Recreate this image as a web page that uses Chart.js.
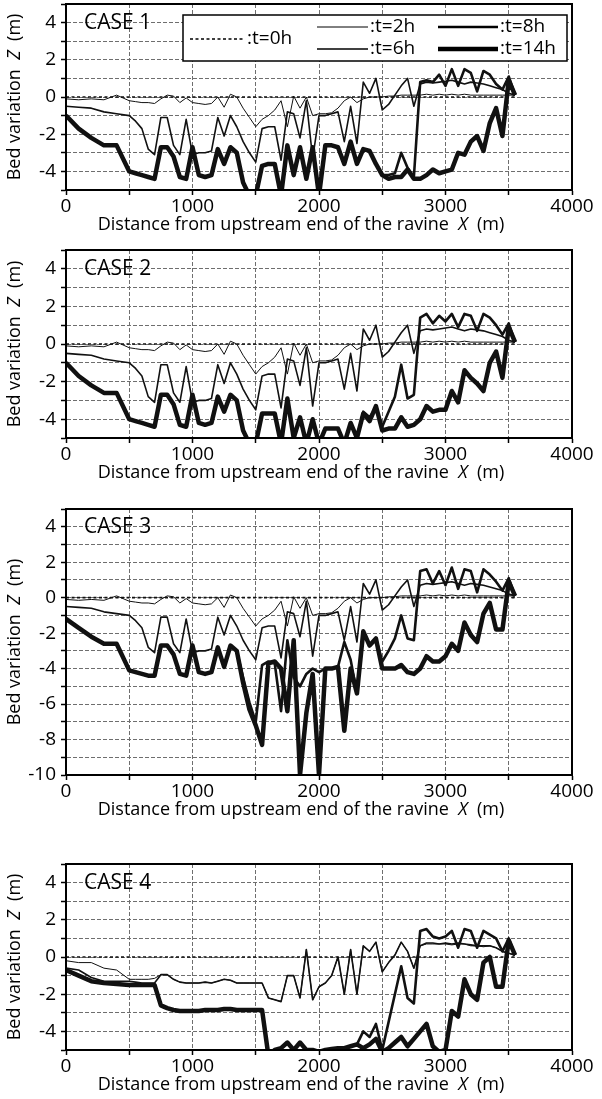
<!DOCTYPE html>
<html>
<head>
<meta charset="utf-8">
<script src="https://cdn.jsdelivr.net/npm/chart.js@4.4.1/dist/chart.umd.min.js"></script>
<style>
  html, body { margin: 0; padding: 0; background: #fff; }
  #page { position: relative; width: 602px; height: 1099px; overflow: hidden; }
  canvas { position: absolute; left: 0; }
</style>
</head>
<body>
<div id="page">
  <canvas id="case1" width="602" height="244" style="top:0px"></canvas>
  <canvas id="case2" width="602" height="256" style="top:244px"></canvas>
  <canvas id="case3" width="602" height="350" style="top:500px"></canvas>
  <canvas id="case4" width="602" height="249" style="top:850px"></canvas>
</div>
<script>
// distance along the ravine (m), shared by every computed profile
const DIST = [0, 100, 200, 300, 400, 500, 550, 600, 650, 700,
  750, 800, 850, 900, 950, 1000, 1050, 1100, 1150, 1200,
  1250, 1300, 1350, 1400, 1450, 1500, 1550, 1600, 1650, 1700,
  1750, 1800, 1850, 1900, 1950, 2000, 2050, 2100, 2150, 2200,
  2250, 2300, 2350, 2400, 2450, 2500, 2550, 2600, 2650, 2700,
  2750, 2800, 2850, 2900, 2950, 3000, 3050, 3100, 3150, 3200,
  3250, 3300, 3350, 3400, 3450, 3500, 3550];

// initial bed (t=0h)
const INITIAL_DIST = [0, 3550];
const INITIAL_Z = [0, 0];

// t=2h and t=6h are the same for cases 1-3
const EARLY_2H = [-0.1, -0.15, -0.1, -0.15, 0.1, -0.2, -0.25, -0.3, -0.3, -0.35,
  -0.1, 0.1, 0.05, -0.3, -0.05, -0.3, -0.35, -0.4, -0.35, 0.0,
  -0.55, 0.15, 0.0, -0.6, -1.1, -1.6, -1.2, -1.0, -0.7, -0.2,
  -1.6, 0.05, -0.6, 0.0, -1.0, -0.9, -0.9, -0.85, -0.6, -0.2,
  0.0, -0.3, -0.1, 0.0, 0.0, 0.0, 0.05, 0.05, 0.1, 0.1,
  0.1, 0.1, 0.15, 0.1, 0.15, 0.1, 0.15, 0.1, 0.15, 0.1,
  0.1, 0.1, 0.1, 0.1, 0.1, 0.1, 0.1];

const EARLY_6H = [-0.5, -0.55, -0.6, -0.8, -0.9, -1.0, -1.3, -1.7, -2.8, -3.1,
  -1.1, -1.1, -2.6, -3.1, -1.2, -3.1, -3.0, -3.0, -2.9, -1.1,
  -2.1, -1.0, -1.6, -2.4, -3.0, -3.5, -1.7, -1.6, -1.6, -3.4,
  -0.8, -0.9, -2.2, -0.2, -3.3, -1.0, -1.0, -0.9, -0.8, -2.4,
  -0.5, -2.5, 0.8, 0.2, 1.0, -0.7, -0.4, 0.1, 0.6, 1.0,
  -0.5, 0.7, 0.8, 0.75, 0.8, 0.85, 0.9, 0.8, 0.7, 0.8,
  0.75, 0.7, 0.6, 0.5, 0.4, 0.2, 0.1];

const CASE1_8H = [-1.0, -1.7, -2.2, -2.6, -2.6, -4.0, -4.1, -4.2, -4.3, -4.4,
  -2.7, -2.7, -3.2, -4.3, -4.4, -2.7, -4.2, -4.3, -4.2, -2.8,
  -3.6, -2.7, -3.0, -4.6, -5.3, -5.3, -3.7, -3.6, -3.6, -5.3,
  -2.6, -4.2, -2.7, -4.4, -2.7, -5.3, -2.6, -2.6, -2.7, -3.6,
  -2.4, -3.6, -2.8, -2.9, -3.6, -4.2, -4.2, -4.1, -3.0, -3.8,
  -4.3, 0.8, 0.9, 0.8, 1.2, 0.6, 1.5, 0.6, 1.5, 1.3,
  0.3, 1.4, 1.2, 0.7, 0.4, 1.1, 0.1];

const CASE1_14H = [-1.0, -1.7, -2.2, -2.6, -2.6, -4.0, -4.1, -4.2, -4.3, -4.4,
  -2.7, -2.7, -3.2, -4.3, -4.4, -2.7, -4.2, -4.3, -4.2, -2.8,
  -3.6, -2.7, -3.0, -4.6, -5.3, -5.3, -3.7, -3.6, -3.6, -5.3,
  -2.6, -4.2, -2.7, -4.4, -2.7, -5.3, -2.6, -2.6, -2.7, -3.6,
  -2.4, -3.6, -2.8, -2.9, -3.6, -4.2, -4.4, -4.3, -4.3, -3.9,
  -4.4, -4.4, -4.2, -3.9, -4.1, -4.0, -3.9, -3.0, -3.1, -2.4,
  -2.1, -2.9, -1.4, -0.6, -2.1, 0.9, 0.1];

const CASE2_8H = [-1.0, -1.7, -2.2, -2.6, -2.6, -4.0, -4.1, -4.2, -4.3, -4.4,
  -2.7, -2.7, -3.2, -4.3, -4.4, -2.7, -4.2, -4.3, -4.2, -2.8,
  -3.6, -2.7, -3.0, -4.6, -5.3, -5.3, -3.7, -3.7, -3.7, -5.3,
  -2.9, -5.0, -3.9, -5.3, -4.0, -5.3, -4.5, -4.5, -4.5, -5.3,
  -4.2, -5.0, -3.6, -3.9, -3.4, -4.4, -3.6, -2.8, -1.1, -2.9,
  -2.7, 1.4, 1.6, 1.1, 1.5, 1.2, 1.6, 0.9, 1.6, 1.5,
  0.7, 1.6, 1.4, 1.0, 0.5, 1.1, 0.1];

const CASE2_14H = [-1.0, -1.7, -2.2, -2.6, -2.6, -4.0, -4.1, -4.2, -4.3, -4.4,
  -2.7, -2.7, -3.2, -4.3, -4.4, -2.7, -4.2, -4.3, -4.2, -2.8,
  -3.6, -2.7, -3.0, -4.6, -5.3, -5.3, -3.7, -3.7, -3.7, -5.3,
  -2.9, -5.0, -3.9, -5.3, -4.0, -5.3, -4.5, -4.5, -4.5, -5.3,
  -4.2, -5.0, -3.7, -4.1, -3.3, -4.6, -4.5, -4.5, -3.9, -4.4,
  -4.3, -4.0, -3.3, -3.6, -3.5, -3.5, -2.5, -3.1, -1.4, -1.8,
  -2.1, -2.5, -1.0, -0.4, -1.8, 0.9, 0.1];

const CASE3_8H = [-1.2, -1.7, -2.2, -2.6, -2.6, -4.1, -4.2, -4.3, -4.4, -4.4,
  -2.7, -2.7, -3.2, -4.3, -4.4, -2.7, -4.2, -4.3, -4.2, -2.8,
  -3.9, -2.7, -3.0, -4.5, -5.9, -7.0, -3.8, -3.6, -3.7, -6.4,
  -2.4, -4.5, -5.0, -4.3, -4.0, -4.2, -4.0, -4.0, -3.9, -2.5,
  -3.5, -5.4, -1.9, -2.7, -2.3, -3.6, -3.0, -2.3, -1.0, -2.3,
  -2.4, 1.5, 1.6, 0.8, 1.5, 0.7, 1.7, 0.5, 1.6, 1.5,
  0.3, 1.6, 1.3, 0.9, 0.4, 1.1, 0.1];

const CASE3_14H = [-1.2, -1.7, -2.2, -2.6, -2.6, -4.1, -4.2, -4.3, -4.4, -4.4,
  -2.7, -2.7, -3.2, -4.3, -4.4, -2.7, -4.2, -4.3, -4.2, -2.8,
  -3.9, -2.7, -3.0, -4.8, -6.3, -7.2, -8.3, -3.7, -3.6, -4.0,
  -6.4, -2.4, -10.0, -6.5, -4.3, -10.0, -4.0, -4.0, -3.9, -7.5,
  -4.0, -5.4, -1.9, -2.7, -2.3, -4.0, -4.0, -4.0, -3.8, -4.2,
  -4.3, -4.0, -3.3, -3.6, -3.6, -3.3, -2.6, -3.0, -1.4, -2.1,
  -2.5, -0.9, -0.3, -1.8, -1.8, 0.9, 0.1];

const CASE4_2H = [-0.2, -0.3, -0.3, -0.6, -0.7, -1.2, -1.2, -1.2, -1.2, -1.15,
  -0.95, -0.95, -1.2, -1.35, -1.4, -1.4, -1.4, -1.35, -1.4, -1.3,
  -1.2, -1.25, -1.4, -1.4, -1.4, -1.4, -1.4, -2.2, -2.3, -2.4,
  -1.0, -1.0, -2.2, 0.4, -2.3, -1.6, -1.4, -1.0, 0.0, -2.0,
  0.4, -2.0, 0.6, 0.3, 0.8, -0.8, -0.3, 0.1, 0.8, 0.3,
  -0.6, 0.6, 0.7, 0.7, 0.7, 0.7, 0.65, 0.7, 0.7, 0.6,
  0.6, 0.55, 0.6, 0.5, 0.3, 0.2, 0.1];

const CASE4_6H = [-0.6, -0.7, -1.1, -1.3, -1.3, -1.3, -1.35, -1.4, -1.4, -1.4,
  -0.95, -0.95, -1.2, -1.35, -1.4, -1.4, -1.4, -1.35, -1.4, -1.3,
  -1.2, -1.25, -1.4, -1.4, -1.4, -1.4, -1.4, -2.2, -2.3, -2.4,
  -1.0, -1.0, -2.2, 0.4, -2.3, -1.6, -1.4, -1.0, 0.0, -2.0,
  0.4, -2.0, 0.6, 0.3, 0.8, -0.8, -0.3, 0.1, 0.8, 0.3,
  -0.6, 0.6, 0.75, 0.75, 0.7, 0.75, 0.7, 0.75, 0.7, 0.65,
  0.6, 0.6, 0.6, 0.5, 0.3, 0.2, 0.1];

const CASE4_8H = [-0.7, -1.0, -1.3, -1.4, -1.45, -1.5, -1.5, -1.5, -1.5, -1.5,
  -2.6, -2.75, -2.85, -2.9, -2.9, -2.9, -2.9, -2.85, -2.85, -2.85,
  -2.8, -2.8, -2.85, -2.85, -2.85, -2.85, -2.85, -5.3, -5.0, -4.9,
  -4.6, -5.0, -4.6, -5.0, -5.0, -5.1, -5.0, -4.95, -4.9, -4.9,
  -4.8, -4.7, -4.0, -4.3, -3.6, -5.0, -3.5, -2.0, -0.5, -2.2,
  -2.5, 1.4, 1.5, 1.1, 1.0, 1.1, 1.4, 0.5, 1.5, 1.4,
  0.5, 1.4, 1.2, 1.0, 0.3, 1.0, 0.1];

const CASE4_14H = [-0.7, -1.0, -1.3, -1.4, -1.45, -1.5, -1.5, -1.5, -1.5, -1.5,
  -2.6, -2.75, -2.85, -2.9, -2.9, -2.9, -2.9, -2.85, -2.85, -2.85,
  -2.8, -2.8, -2.85, -2.85, -2.85, -2.85, -2.85, -5.3, -5.0, -4.9,
  -4.6, -5.0, -4.6, -5.0, -5.0, -5.1, -5.0, -4.95, -4.9, -4.9,
  -4.8, -4.7, -4.9, -4.7, -4.4, -5.1, -4.9, -4.6, -4.3, -4.8,
  -4.4, -4.0, -3.6, -4.8, -5.1, -5.0, -2.9, -3.2, -1.2, -2.0,
  -2.3, -0.3, 0.0, -1.6, -1.6, 0.9, 0.1];

const LEGEND_LABELS = [':t=0h', ':t=2h', ':t=6h', ':t=8h', ':t=14h'];
const X_TICKS = [0, 1000, 2000, 3000, 4000];

const FONT = '"Open Sans", "DejaVu Sans", sans-serif';
const INK = '#111';

Chart.defaults.font.family = FONT;
Chart.defaults.color = '#000';

function series(xs, zs) {
  return xs.map((x, i) => ({ x: x, y: zs[i] }));
}

function makeDatasets(z2, z6, z8, z14) {
  const base = { borderColor: INK, pointRadius: 0, tension: 0, fill: false, borderJoinStyle: 'round' };
  return [
    { ...base, label: LEGEND_LABELS[0], data: series(INITIAL_DIST, INITIAL_Z), borderWidth: 1.6, borderDash: [3, 2.5] },
    { ...base, label: LEGEND_LABELS[1], data: series(DIST, z2), borderWidth: 1 },
    { ...base, label: LEGEND_LABELS[2], data: series(DIST, z6), borderWidth: 1.6 },
    { ...base, label: LEGEND_LABELS[3], data: series(DIST, z8), borderWidth: 2.6 },
    { ...base, label: LEGEND_LABELS[4], data: series(DIST, z14), borderWidth: 4.5 },
  ];
}

function drawMixed(ctx, parts, cx, cy) {
  let total = 0;
  parts.forEach(p => { ctx.font = p.font; p.w = ctx.measureText(p.text).width; total += p.w; });
  let x = cx - total / 2;
  ctx.textAlign = 'left';
  ctx.textBaseline = 'middle';
  parts.forEach(p => { ctx.font = p.font; ctx.fillText(p.text, x, cy); x += p.w; });
}

const decorPlugin = {
  id: 'decor',
  afterDraw(chart, args, opts) {
    const ctx = chart.ctx;
    const a = chart.chartArea;
    const yScale = chart.scales.y;
    ctx.save();
    ctx.fillStyle = '#000';
    ctx.strokeStyle = '#000';

    // frame
    ctx.lineWidth = 2;
    ctx.strokeRect(a.left, a.top, a.right - a.left, a.bottom - a.top);

    // axis titles
    const f = '18px ' + FONT;
    const fi = 'italic 18px ' + FONT;
    drawMixed(ctx, [
      { text: 'Distance from upstream end of the ravine  ', font: f },
      { text: 'X', font: fi },
      { text: '  (m)', font: f },
    ], chart.width / 2, a.bottom + 35);

    ctx.save();
    ctx.translate(15, (a.top + a.bottom) / 2);
    ctx.rotate(-Math.PI / 2);
    drawMixed(ctx, [
      { text: 'Bed variation  ', font: f },
      { text: 'Z', font: fi },
      { text: '  (m)', font: f },
    ], 0, 0);
    ctx.restore();

    // case label
    ctx.font = '21px ' + FONT;
    ctx.textAlign = 'left';
    ctx.textBaseline = 'middle';
    ctx.fillText(opts.caseLabel, a.left + 18, yScale.getPixelForValue(4));

    // legend (first panel only)
    if (opts.legend) {
      const bx = a.left + 117, by = a.top + 11, bw = 384, bh = 46;
      ctx.fillStyle = '#fff';
      ctx.fillRect(bx, by, bw, bh);
      ctx.lineWidth = 1.5;
      ctx.strokeRect(bx, by, bw, bh);
      ctx.fillStyle = '#000';
      const r1 = by + 12, r2 = by + 34, rm = by + 24;
      const slots = [
        [bx + 7, bx + 62, rm],
        [bx + 134, bx + 185, r1],
        [bx + 134, bx + 185, r2],
        [bx + 255, bx + 315, r1],
        [bx + 255, bx + 315, r2],
      ];
      ctx.font = '19px ' + FONT;
      chart.data.datasets.forEach((ds, i) => {
        const [x1, x2, yy] = slots[i];
        ctx.save();
        ctx.lineWidth = ds.borderWidth;
        ctx.setLineDash(ds.borderDash || []);
        ctx.beginPath();
        ctx.moveTo(x1, yy);
        ctx.lineTo(x2, yy);
        ctx.stroke();
        ctx.restore();
        ctx.textAlign = 'left';
        ctx.textBaseline = 'middle';
        ctx.fillText(ds.label, x2 + 2, yy);
      });
    }
    ctx.restore();
  }
};

function makePanel(id, caseLabel, zMin, datasets, plotTop, plotBottom, canvasTop, canvasH, legend) {
  const axisH = canvasH - (plotBottom - canvasTop);
  const gridStyle = { color: '#6e6e6e', lineWidth: 1, tickColor: '#000', tickLength: 5, tickWidth: 1.5 };
  return new Chart(document.getElementById(id), {
    type: 'line',
    data: { datasets: datasets },
    options: {
      responsive: false,
      animation: false,
      layout: { padding: { top: plotTop - canvasTop, right: 30, left: 0, bottom: 0 } },
      plugins: {
        legend: { display: false },
        tooltip: { enabled: false },
        decor: { caseLabel: caseLabel, legend: legend },
      },
      scales: {
        x: {
          type: 'linear', min: 0, max: 4000,
          ticks: {
            stepSize: 500, autoSkip: false, maxRotation: 0, padding: 0,
            font: { size: 19 }, color: '#000',
            callback: v => X_TICKS.includes(v) ? String(v) : '',
          },
          grid: gridStyle,
          border: { color: '#000', width: 2, dash: [4, 2] },
          afterFit: s => { s.height = axisH; s.paddingLeft = 0; s.paddingRight = 0; },
        },
        y: {
          min: zMin, max: 5,
          ticks: {
            stepSize: 1, autoSkip: false, padding: 5,
            font: { size: 19 }, color: '#000',
            callback: v => (v % 2 === 0 ? String(v) : ''),
          },
          grid: gridStyle,
          border: { color: '#000', width: 2, dash: [4, 2] },
          afterFit: s => { s.width = 66; s.paddingTop = 0; s.paddingBottom = 0; },
        },
      },
    },
    plugins: [decorPlugin],
  });
}

makePanel('case1', 'CASE 1', -5, makeDatasets(EARLY_2H, EARLY_6H, CASE1_8H, CASE1_14H), 4, 190, 0, 244, true);
makePanel('case2', 'CASE 2', -5, makeDatasets(EARLY_2H, EARLY_6H, CASE2_8H, CASE2_14H), 250, 438, 244, 256, false);
makePanel('case3', 'CASE 3', -10, makeDatasets(EARLY_2H, EARLY_6H, CASE3_8H, CASE3_14H), 509, 775, 500, 350, false);
makePanel('case4', 'CASE 4', -5, makeDatasets(CASE4_2H, CASE4_6H, CASE4_8H, CASE4_14H), 864, 1050, 850, 249, false);
</script>
</body>
</html>
